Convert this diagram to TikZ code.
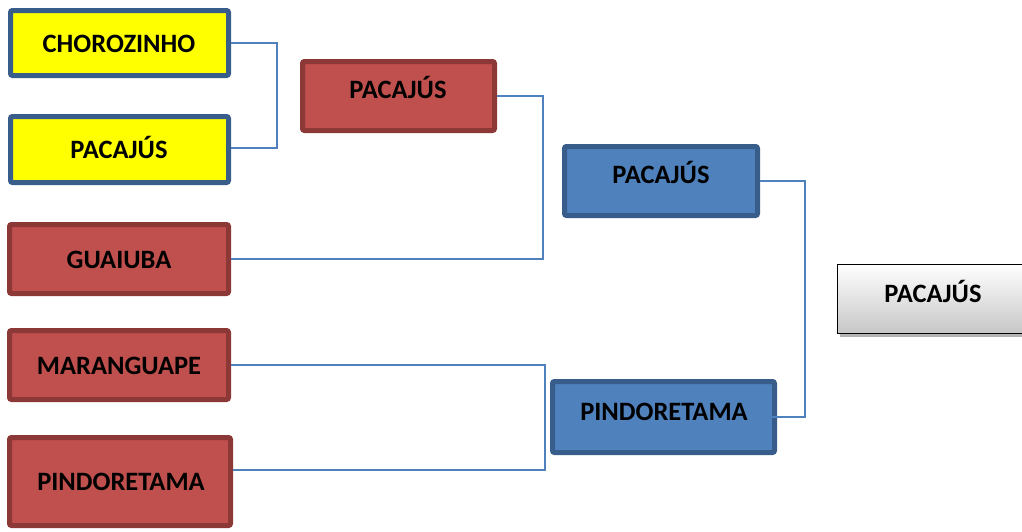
\documentclass[tikz,border=0pt]{standalone}
\usepackage{fontspec}
\setmainfont{Carlito}
\usetikzlibrary{shadows}
\definecolor{ylw}{HTML}{FFFF00}
\definecolor{bluebd}{HTML}{385D8A}
\definecolor{redf}{HTML}{C0504D}
\definecolor{redbd}{HTML}{8C3836}
\definecolor{bluef}{HTML}{4F81BD}
\definecolor{conn}{HTML}{4F81BD}
\tikzset{
  box/.style n args={4}{draw, line width=5pt, rounded corners=2pt, outer sep=0pt, inner sep=0pt,
     minimum width={#3-#1-5pt}, minimum height={#4-#2-5pt}},
  ybox/.style={fill=ylw, draw=bluebd},
  rbox/.style={fill=redf, draw=redbd},
  bbox/.style={fill=bluef, draw=bluebd},
  gbox/.style={draw=black, line width=0.9pt, top color=white, bottom color=black!22, outer sep=0pt,
     drop shadow={shadow xshift=3pt, shadow yshift=-4pt, opacity=0.6}},
  lbl/.style={font=\fontsize{26.5}{30}\selectfont\bfseries, text=black, inner sep=0pt, anchor=base},
  link/.style={draw=conn, line width=1.3pt}
}
\begin{document}
\begin{tikzpicture}[x=1pt,y=-1pt]
\useasboundingbox (0,0) rectangle (1022,531);
\coordinate (j1) at (277,0);
\coordinate (j2) at (543,0);
\coordinate (j3) at (545,0);
\coordinate (j4) at (805,0);
% boxes
\node[box={8}{8}{231}{78}, ybox] (b1) at (119.5,43) {};
\node[box={8}{114}{231}{185}, ybox] (b2) at (119.5,149.5) {};
\node[box={7}{222}{231}{296}, rbox] (b3) at (119,259) {};
\node[box={7}{328}{231}{402}, rbox] (b4) at (119,365) {};
\node[box={7}{435}{233}{528}, rbox] (b5) at (120,481.5) {};
\node[box={300}{59}{497}{133}, rbox] (b6) at (398.5,96) {};
\node[box={562}{144}{760}{218}, bbox] (b7) at (661,181) {};
\node[box={550}{379}{777}{455}, bbox] (b8) at (663.5,417) {};
\node[gbox, minimum width=200pt, minimum height=69pt, inner sep=0pt] (b9) at (937,298.5) {};
% connectors
\draw[link] ([xshift=2.5pt]b1.east) -- (j1 |- b1.east) -- (j1 |- 0,148) -- ([xshift=2.5pt]b2.east |- 0,148);
\draw[link] ([xshift=2.5pt]b6.east) -- (j2 |- b6.east) -- (j2 |- b3.east) -- ([xshift=2.5pt]b3.east);
\draw[link] ([xshift=2.5pt]b4.east) -- (j3 |- b4.east) -- (j3 |- 0,470) -- ([xshift=2.5pt]b5.east |- 0,470);
\draw[link] ([xshift=2.5pt]b7.east) -- (j4 |- b7.east) -- (j4 |- b8.east) -- ([xshift=-17pt]b8.east);
% labels
\node[lbl] (t1) at (119,52.5) {CHOROZINHO};
\node[lbl] (t2) at (119,158) {PACAJÚS};
\node[lbl] (t3) at (119,268) {GUAIUBA};
\node[lbl] (t4) at (119,374) {MARANGUAPE};
\node[lbl] (t5) at (121,490) {PINDORETAMA};
\node[lbl] (t6) at (398,98) {PACAJÚS};
\node[lbl] (t7) at (661,183) {PACAJÚS};
\node[lbl] (t8) at (664,420) {PINDORETAMA};
\node[lbl] (t9) at (933,302) {PACAJÚS};
\end{tikzpicture}
\end{document}
